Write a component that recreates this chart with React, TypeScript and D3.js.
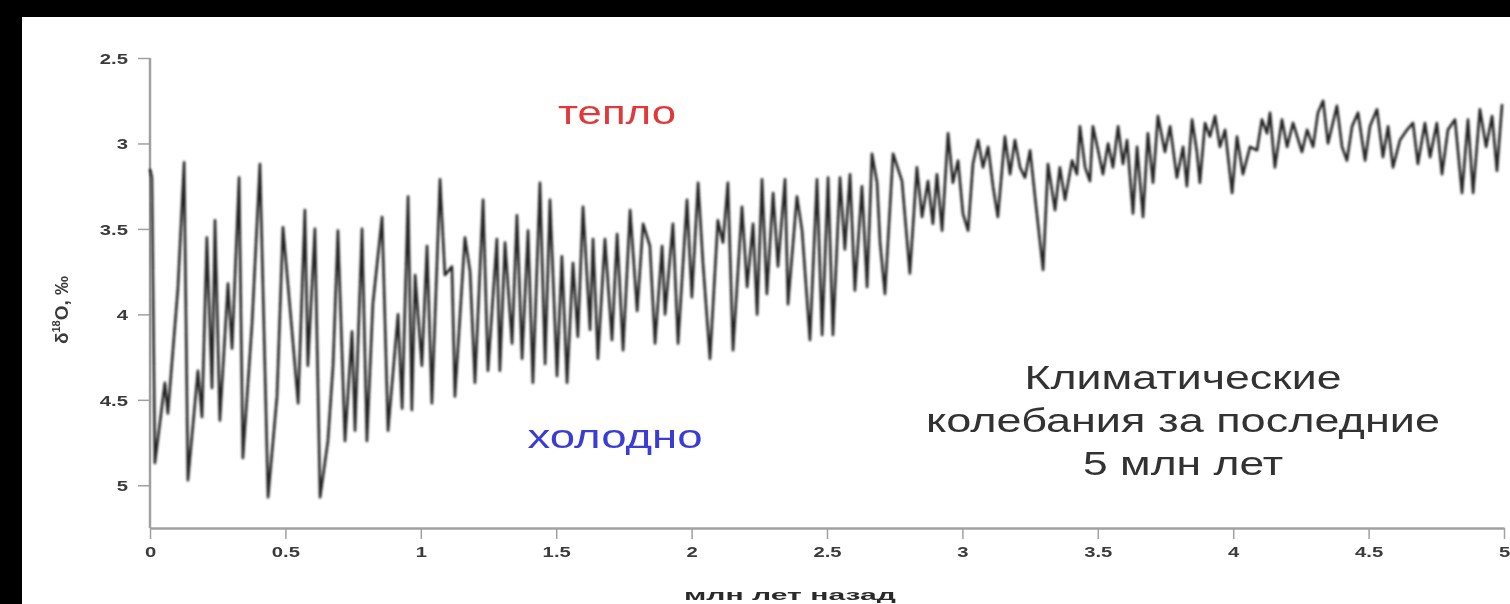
import { useEffect, useRef } from 'react';
import * as d3 from 'd3';

// turning points (age in Myr before present, δ18O in ‰)
const ageMyr = [
  0.0, 0.007, 0.018, 0.055, 0.066, 0.103, 0.126, 0.14, 0.177, 0.192, 0.21, 0.229, 0.24, 0.258, 0.288, 0.303,
  0.329, 0.343, 0.377, 0.406, 0.436, 0.469, 0.491, 0.524, 0.547, 0.572, 0.583, 0.609, 0.628, 0.657, 0.676, 0.694,
  0.72, 0.746, 0.757, 0.783, 0.801, 0.823, 0.857, 0.879, 0.916, 0.931, 0.953, 0.967, 0.979, 1.004, 1.023, 1.041,
  1.071, 1.089, 1.115, 1.126, 1.163, 1.182, 1.2, 1.23,
  1.248, 1.281, 1.292, 1.311, 1.337, 1.355, 1.374, 1.396, 1.414, 1.44, 1.459, 1.477, 1.503, 1.521, 1.54, 1.562,
  1.58, 1.599, 1.625, 1.636, 1.654, 1.68, 1.706, 1.725, 1.747, 1.773, 1.799, 1.821, 1.846, 1.865, 1.891, 1.902,
  1.931, 1.95, 1.983, 2.001, 2.024, 2.042, 2.068, 2.097, 2.116, 2.134, 2.153, 2.186, 2.205, 2.227, 2.242, 2.26,
  2.278, 2.301, 2.319, 2.345, 2.356, 2.389, 2.408, 2.437, 2.463,
  2.482, 2.504, 2.522, 2.548, 2.566, 2.585, 2.603, 2.629, 2.648, 2.666, 2.685, 2.696, 2.714, 2.744, 2.777, 2.806,
  2.832, 2.851, 2.873, 2.891, 2.906, 2.925, 2.947, 2.965, 2.984, 3.002, 3.021, 3.039, 3.058, 3.076, 3.095, 3.113,
  3.131, 3.157, 3.176, 3.194, 3.213, 3.231, 3.25, 3.268, 3.298, 3.316, 3.342, 3.36, 3.379, 3.405, 3.423, 3.434,
  3.453, 3.471, 3.482, 3.501, 3.519, 3.538, 3.556, 3.575, 3.593, 3.608, 3.63, 3.645, 3.667, 3.685, 3.704,
  3.722, 3.748, 3.767, 3.792, 3.815, 3.829, 3.848, 3.866, 3.877, 3.896, 3.914, 3.933, 3.951, 3.97, 3.996, 4.014,
  4.036, 4.062, 4.088, 4.106, 4.125, 4.136, 4.154, 4.18, 4.199, 4.221, 4.254, 4.273, 4.295, 4.313, 4.332, 4.35,
  4.383, 4.402, 4.42, 4.439, 4.461, 4.487, 4.505, 4.531, 4.553, 4.572, 4.59, 4.616, 4.642, 4.664, 4.682, 4.708,
  4.727, 4.752, 4.771, 4.793, 4.819, 4.845, 4.867, 4.886, 4.911, 4.934, 4.956, 4.974, 4.993
];

const d18O = [
  3.15, 3.2, 4.87, 4.4, 4.58, 3.85, 3.11, 4.97, 4.33, 4.6, 3.55, 4.43, 3.45, 4.62, 3.82, 4.2,
  3.2, 4.84, 4.05, 3.12, 5.07, 4.48, 3.49, 4.09, 4.52, 3.39, 4.3, 3.5, 5.07, 4.74, 4.3, 3.51,
  4.74, 4.1, 4.68, 3.5, 4.74, 3.94, 3.43, 4.68, 4.0, 4.55, 3.31, 4.56, 3.77, 4.3, 3.6, 4.52,
  3.21, 3.77, 3.72, 4.48, 3.55, 3.75, 4.4, 3.33,
  4.33, 3.56, 4.33, 3.58, 4.17, 3.42, 4.26, 3.51, 4.4, 3.23, 4.29, 3.33, 4.36, 3.66, 4.4, 3.7,
  4.13, 3.37, 4.09, 3.56, 4.26, 3.56, 4.15, 3.53, 4.21, 3.39, 3.98, 3.47, 3.6, 4.17, 3.6, 4.0,
  3.47, 4.17, 3.33, 3.9, 3.23, 3.7, 4.26, 3.45, 3.58, 3.23, 4.21, 3.37, 3.84, 3.47, 4.0, 3.21,
  3.88, 3.29, 3.72, 3.21, 3.94, 3.31, 3.51, 4.15, 3.21,
  4.12, 3.2, 4.12, 3.2, 3.62, 3.18, 3.86, 3.25, 3.84, 3.06, 3.23, 3.58, 3.88, 3.06, 3.22, 3.76,
  3.14, 3.43, 3.22, 3.47, 3.18, 3.51, 2.94, 3.23, 3.1, 3.41, 3.51, 3.12, 2.98, 3.14, 3.02, 3.25,
  3.43, 2.96, 3.18, 2.98, 3.14, 3.2, 3.04, 3.31, 3.74, 3.12, 3.39, 3.14, 3.33, 3.1, 3.18, 2.9,
  3.14, 3.22, 2.9, 3.04, 3.18, 3.0, 3.14, 2.9, 3.12, 2.98, 3.41, 3.02, 3.43, 2.94, 3.23,
  2.84, 3.05, 2.9, 3.2, 3.02, 3.25, 2.86, 3.05, 3.23, 2.88, 2.96, 2.84, 3.02, 2.92, 3.29, 2.96,
  3.18, 3.02, 3.04, 2.86, 2.94, 2.82, 3.14, 2.86, 3.02, 2.88, 3.05, 2.92, 3.02, 2.82, 2.75, 3.0,
  2.78, 3.02, 3.1, 2.9, 2.82, 3.1, 2.9, 2.8, 3.08, 2.9, 3.14, 2.98, 2.92, 2.88, 3.12, 2.88,
  3.08, 2.88, 3.18, 2.92, 2.86, 3.29, 2.86, 3.29, 2.8, 3.02, 2.84, 3.16, 2.77
];

const xTicks = [0, 0.5, 1, 1.5, 2, 2.5, 3, 3.5, 4, 4.5, 5];
const yTicks = [2.5, 3, 3.5, 4, 4.5, 5];
const warmLabel = 'тепло';
const coldLabel = 'холодно';
const captionLines = ['Климатические', 'колебания за последние', '5 млн лет'];
const xTitle = 'млн лет назад';

const W = 1510;
const H = 604;
const FONT = "'Liberation Sans', Arial, sans-serif";

export default function App() {
  const svgRef = useRef<SVGSVGElement | null>(null);

  useEffect(() => {
    document.body.style.margin = '0';
    if (!svgRef.current) return;
    const svg = d3.select(svgRef.current);
    svg.selectAll('*').remove();

    const x = d3.scaleLinear().domain([0, 5]).range([150, 1504]);
    const y = d3.scaleLinear().domain([2.5, 5.25]).range([58, 528]);

    // stretch text horizontally, the source picture is wider than tall
    const stretch = (sel: d3.Selection<SVGTextElement, any, any, any>, k: number) =>
      sel.each(function () {
        const len = this.getComputedTextLength();
        d3.select(this).attr('textLength', len * k).attr('lengthAdjust', 'spacingAndGlyphs');
      });

    svg.append('rect').attr('width', W).attr('height', H).attr('fill', '#000');
    svg.append('rect').attr('x', 22).attr('y', 17).attr('width', W - 22).attr('height', H - 17).attr('fill', '#fff');

    const defs = svg.append('defs');
    defs.append('filter').attr('id', 'soft')
      .append('feGaussianBlur').attr('stdDeviation', 0.6);
    defs.append('filter').attr('id', 'softer')
      .append('feGaussianBlur').attr('stdDeviation', 0.8);

    const g = svg.append('g').attr('filter', 'url(#soft)');

    // axes
    const yAxis = g.append('g')
      .attr('transform', `translate(${x(0)},0)`)
      .call(d3.axisLeft(y).tickValues(yTicks).tickSize(12).tickSizeOuter(0).tickFormat(d => String(d)));
    yAxis.select('.domain').attr('stroke', '#a0a0a0').attr('stroke-width', 2.5)
      .attr('d', `M0,${y(2.5)}V${y(5.25)}`);
    yAxis.selectAll('.tick line').attr('stroke', '#a0a0a0').attr('stroke-width', 1.5);
    yAxis.selectAll<SVGTextElement, number>('.tick text')
      .attr('x', -22).attr('dy', '0.35em')
      .attr('fill', '#3a3a3a').attr('font-family', FONT).attr('font-weight', 'bold').attr('font-size', 15)
      .call(s => stretch(s, 1.35));

    const xAxis = g.append('g')
      .attr('transform', `translate(0,${y(5.25)})`)
      .call(d3.axisBottom(x).tickValues(xTicks).tickSize(11).tickSizeOuter(0).tickFormat(d => String(d)));
    xAxis.select('.domain').attr('stroke', '#a0a0a0').attr('stroke-width', 2.5);
    xAxis.selectAll('.tick line').attr('stroke', '#a0a0a0').attr('stroke-width', 1.5);
    xAxis.selectAll<SVGTextElement, number>('.tick text')
      .attr('y', 24).attr('dy', '0.35em')
      .attr('fill', '#3a3a3a').attr('font-family', FONT).attr('font-weight', 'bold').attr('font-size', 15)
      .call(s => stretch(s, 1.35));

    // curve
    const points = ageMyr.map((a, i) => [a, d18O[i]] as [number, number]);
    const line = d3.line<[number, number]>().x(d => x(d[0])).y(d => y(d[1]));
    svg.append('path')
      .attr('d', line(points) ?? '')
      .attr('fill', 'none')
      .attr('stroke', '#222')
      .attr('stroke-width', 2.6)
      .attr('stroke-linejoin', 'round')
      .attr('filter', 'url(#softer)');

    // axis titles
    const yt = g.append('text')
      .attr('transform', `translate(68,${310}) rotate(-90)`)
      .attr('text-anchor', 'middle')
      .attr('fill', '#3a3a3a').attr('font-family', FONT).attr('font-weight', 'bold').attr('font-size', 19);
    yt.append('tspan').text('δ');
    yt.append('tspan').attr('font-size', 11).attr('dy', -8).text('18');
    yt.append('tspan').attr('dy', 8).text('O, ‰');

    g.append('text')
      .attr('x', 790).attr('y', 600)
      .attr('text-anchor', 'middle')
      .attr('fill', '#2a2a2a').attr('font-family', FONT).attr('font-weight', 'bold').attr('font-size', 15)
      .text(xTitle)
      .attr('textLength', 212).attr('lengthAdjust', 'spacingAndGlyphs');

    // annotations
    g.append('text')
      .attr('x', 617).attr('y', 124)
      .attr('text-anchor', 'middle')
      .attr('fill', '#e0393b').attr('font-family', FONT).attr('font-size', 34)
      .attr('textLength', 118).attr('lengthAdjust', 'spacingAndGlyphs')
      .text(warmLabel);

    g.append('text')
      .attr('x', 615).attr('y', 448)
      .attr('text-anchor', 'middle')
      .attr('fill', '#3b3bd6').attr('font-family', FONT).attr('font-size', 34)
      .attr('textLength', 175).attr('lengthAdjust', 'spacingAndGlyphs')
      .text(coldLabel);

    const captionWidths = [317, 514, 200];
    captionLines.forEach((t, i) => {
      g.append('text')
        .attr('x', 1183).attr('y', 389 + i * 43)
        .attr('text-anchor', 'middle')
        .attr('fill', '#333').attr('font-family', FONT).attr('font-size', 33)
        .attr('textLength', captionWidths[i]).attr('lengthAdjust', 'spacingAndGlyphs')
        .text(t);
    });
  }, []);

  return <svg ref={svgRef} width={W} height={H} style={{ display: 'block' }} />;
}
